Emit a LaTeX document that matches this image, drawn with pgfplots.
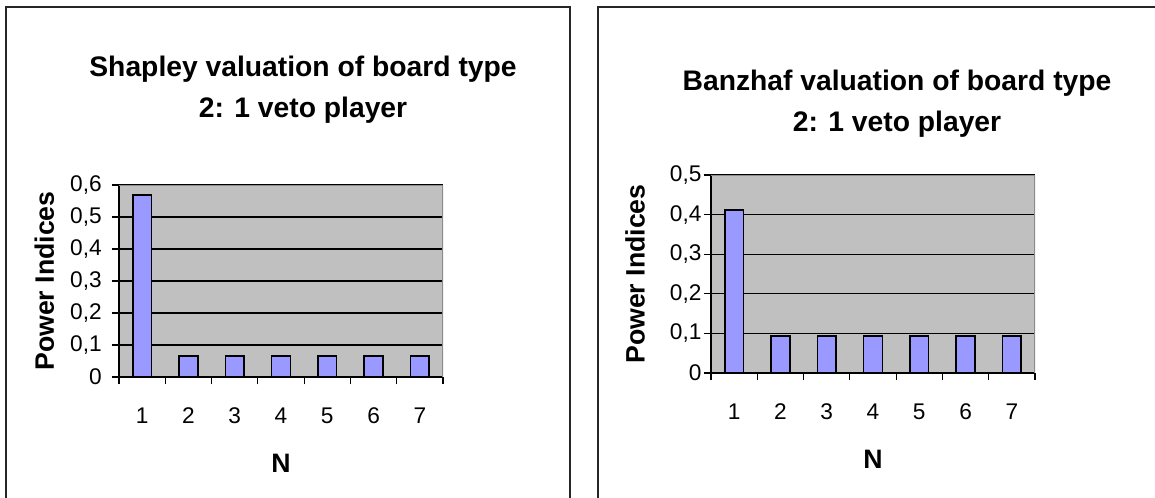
\documentclass[border=0pt]{standalone}
\usepackage{fontspec}
\setmainfont{Liberation Sans}
\usepackage{pgfplots}
\pgfplotsset{compat=1.18}
\definecolor{plotbg}{HTML}{C0C0C0}
\definecolor{barfill}{HTML}{9999FF}
\definecolor{plotframe}{HTML}{8C8C8C}
\pgfplotsset{excel/.style={
  scale only axis, width=243pt, xmin=0.5, xmax=7.5, ymin=0,
  axis background/.style={fill=plotbg},
  axis x line*=bottom, axis y line*=left,
  axis line style={-, black, line width=0.9pt},
  tick align=outside, major tick length=5.5pt,
  tick style={black, line width=0.9pt},
  xtick={0.5,1.5,...,7.5}, xticklabels={,,,,,,,,},
  extra x ticks={1,2,3,4,5,6,7}, extra x tick labels={1,2,3,4,5,6,7},
  extra x tick style={major tick length=0pt},
  x tick label style={font=\fontsize{17}{19}\selectfont, anchor=center, yshift=-29pt},
  ymajorgrids, grid style={black, line width=0.8pt},
  ytick distance=0.1,
  y tick label style={font=\fontsize{17}{19}\selectfont, anchor=east, inner sep=0pt,
    /pgf/number format/use comma, /pgf/number format/fixed,
    /pgf/number format/precision=1, /pgf/number format/assume math mode=true},
  xlabel={N}, ylabel={Power Indices},
  label style={font=\bfseries\fontsize{20}{22}\selectfont},
  xlabel style={at={(axis description cs:0.5,0)}, anchor=center, yshift=-65pt},
}}
\begin{document}
\begin{tikzpicture}
\clip (0,0) rectangle (866.25pt,372.75pt);
\draw[black!85, line width=1.1pt] (4.5pt,-20pt) -- (4.5pt,367.5pt) -- (427.5pt,367.5pt) -- (427.5pt,-20pt);
\draw[black!85, line width=1.1pt] (448.5pt,-20pt) -- (448.5pt,367.5pt) -- (900pt,367.5pt);
\begin{scope}[every node/.style={anchor=base, font=\bfseries\fontsize{21.2}{25}\selectfont}]
\node at (227.25pt,315pt) {Shapley valuation of board type};
\node at (227.25pt,284.25pt) {2: 1 veto player};
\node at (672.75pt,304.5pt) {Banzhaf valuation of board type};
\node at (672.75pt,273.75pt) {2: 1 veto player};
\end{scope}
\begin{axis}[excel, at={(89.25pt,90pt)}, anchor=south west, height=144pt, ymax=0.6,
  y tick label style={xshift=-7.3pt},
  ylabel style={at={(axis description cs:0,0.5)}, anchor=center, yshift=56pt}]
\addplot[ybar, bar width=14pt, fill=barfill, draw=black, line width=1.2pt]
  coordinates {(1,0.569) (2,0.066) (3,0.066) (4,0.066) (5,0.066) (6,0.066) (7,0.066)};
\draw[plotframe, line width=1.2pt] (rel axis cs:0,1) -- (rel axis cs:1,1) -- (rel axis cs:1,0);
\end{axis}
\begin{axis}[excel, at={(533.25pt,93pt)}, anchor=south west, height=148.5pt, ymax=0.5,
  y tick label style={xshift=-1.5pt},
  ylabel style={at={(axis description cs:0,0.5)}, anchor=center, yshift=57pt}]
\addplot[ybar, bar width=14pt, fill=barfill, draw=black, line width=1.2pt]
  coordinates {(1,0.412) (2,0.094) (3,0.094) (4,0.094) (5,0.094) (6,0.094) (7,0.094)};
\draw[plotframe, line width=1.2pt] (rel axis cs:0,1) -- (rel axis cs:1,1) -- (rel axis cs:1,0);
\end{axis}
\end{tikzpicture}
\end{document}
